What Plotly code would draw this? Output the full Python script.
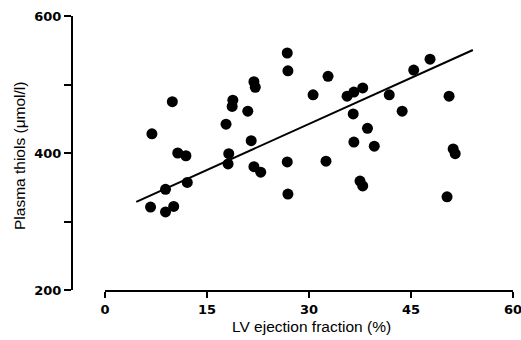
import plotly.graph_objects as go

# LV ejection fraction (%) and plasma thiols (umol/l)
ef = [9.9, 6.9, 10.7, 11.9, 8.9, 12.1, 6.7, 8.9, 10.1,
      18.8, 18.7, 17.8, 18.2, 18.1, 21.0, 21.9, 22.1, 21.5, 21.9, 22.9,
      26.8, 26.9, 32.8, 30.6, 35.6, 36.6, 37.9, 36.5, 38.6, 36.6, 39.6,
      26.8, 32.5, 26.9, 37.5, 37.9,
      41.8, 43.7, 45.4, 47.8, 50.6, 51.2, 51.5, 50.3]
thiols = [475, 428, 400, 396, 347, 357, 321, 314, 322,
          477, 468, 442, 399, 384, 461, 504, 496, 418, 380, 372,
          546, 520, 512, 485, 483, 489, 495, 457, 436, 416, 410,
          387, 388, 340, 359, 352,
          485, 461, 521, 537, 483, 406, 399, 336]

# regression line
fit_intercept = 308.0
fit_slope = 4.48
fit_x = [4.6, 54.1]
fit_y = [fit_intercept + fit_slope * v for v in fit_x]

x_ticks = [0, 15, 30, 45, 60]
y_ticks = [200, 300, 400, 500, 600]
y_ticktext = ["200", "", "400", "", "600"]

W, H = 521, 340
ml, mt, mr, mb = 72, 16, 8, 50
plot_w = W - ml - mr
plot_h = H - mt - mb
x_start = 33 / plot_w

tickfont = dict(family="DejaVu Sans", size=13, color="black", weight="bold")
titlefont = dict(family="Liberation Sans, Arial", size=15.5, color="black")

fig = go.Figure()
fig.add_trace(go.Scatter(x=fit_x, y=fit_y, mode="lines",
                         line=dict(color="black", width=2), showlegend=False,
                         hoverinfo="skip"))
fig.add_trace(go.Scatter(x=ef, y=thiols, mode="markers",
                         marker=dict(color="black", size=11, line=dict(width=0)),
                         showlegend=False))

def px_x(sx):
    return (sx - ml) / plot_w

def px_y(sy):
    return (H - mb - sy) / plot_h

fig.update_layout(
    width=W, height=H,
    margin=dict(l=ml, r=mr, t=mt, b=mb, autoexpand=False),
    paper_bgcolor="white", plot_bgcolor="white",
    xaxis=dict(domain=[x_start, 1], range=[0, 60], tickvals=x_ticks,
               showline=True, linecolor="black", linewidth=2,
               ticks="outside", ticklen=6, tickwidth=2, tickcolor="black",
               showgrid=False, zeroline=False, tickfont=tickfont,
               ticklabeloverflow="allow", automargin=False),
    yaxis=dict(anchor="free", position=0, range=[200, 600],
               tickvals=y_ticks, ticktext=y_ticktext,
               showline=True, linecolor="black", linewidth=2,
               ticks="outside", ticklen=7, tickwidth=2, tickcolor="black",
               showgrid=False, zeroline=False, tickfont=tickfont,
               automargin=False),
    annotations=[
        dict(text="LV ejection fraction (%)", xref="paper", yref="paper",
             x=px_x(311), y=px_y(326),
             xanchor="center", yanchor="middle", showarrow=False, font=titlefont),
        dict(text="Plasma thiols (μmol/l)", xref="paper", yref="paper",
             x=px_x(19), y=px_y(156), textangle=-90,
             xanchor="center", yanchor="middle", showarrow=False, font=titlefont),
    ],
)

fig.write_html("out.html",
               config={"displayModeBar": False},
               post_script="document.body.style.margin='0';document.body.style.overflow='hidden';")
